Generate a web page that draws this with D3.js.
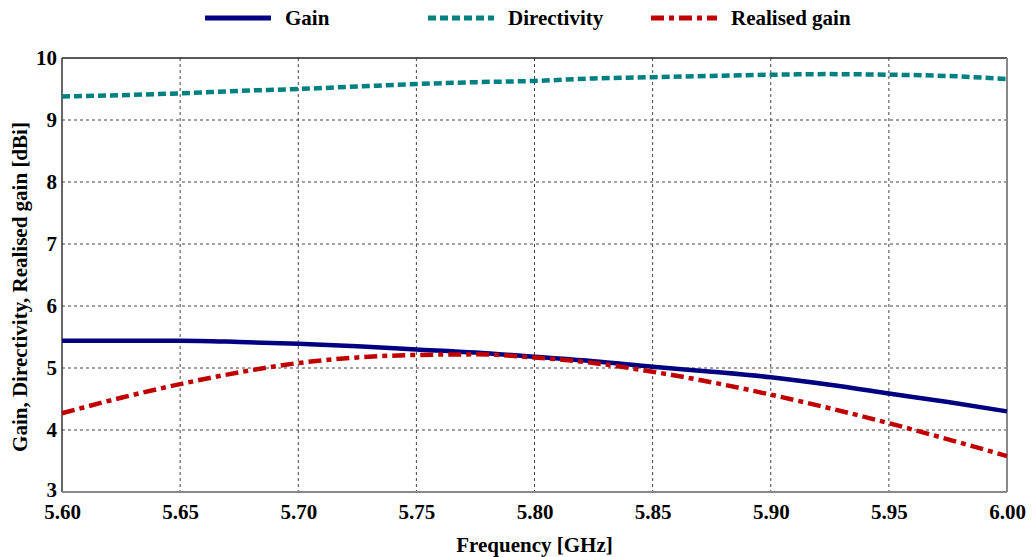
<!DOCTYPE html>
<html>
<head>
<meta charset="utf-8">
<script src="https://cdn.jsdelivr.net/npm/d3@7"></script>
<style>
  html, body { margin: 0; padding: 0; background: #fff; }
  svg text { font-family: "Liberation Serif", "Times New Roman", serif; font-weight: bold; fill: #000; }
</style>
</head>
<body>
<svg id="chart" width="1033" height="557"></svg>
<script>
// Frequency sweep [GHz]
const freq = [5.600, 5.625, 5.650, 5.675, 5.700, 5.725, 5.750, 5.775, 5.800,
              5.825, 5.850, 5.875, 5.900, 5.925, 5.950, 5.975, 6.000];
// Antenna figures [dBi]
const gain        = [5.44, 5.44, 5.44, 5.42, 5.39, 5.35, 5.30, 5.25, 5.18,
                     5.11, 5.02, 4.94, 4.85, 4.73, 4.59, 4.45, 4.30];
const directivity = [9.38, 9.40, 9.43, 9.47, 9.50, 9.54, 9.58, 9.61, 9.63,
                     9.67, 9.69, 9.71, 9.73, 9.74, 9.73, 9.71, 9.66];
const realised    = [4.27, 4.52, 4.74, 4.93, 5.08, 5.17, 5.21, 5.22, 5.17,
                     5.08, 4.94, 4.77, 4.57, 4.35, 4.11, 3.85, 3.58];

const xTicks = [5.60, 5.65, 5.70, 5.75, 5.80, 5.85, 5.90, 5.95, 6.00];
const yTicks = [3, 4, 5, 6, 7, 8, 9, 10];

const seriesNames = ["Gain", "Directivity", "Realised gain"];
const seriesData = [gain, directivity, realised];

const styles = [
  { color: "#000080", dash: null },
  { color: "#008080", dash: "8,4" },
  { color: "#c00000", dash: "13,5,5,5" }
];

const svg = d3.select("#chart");
const L = 62, R = 1007, T = 58, B = 492;

const x = d3.scaleLinear().domain([5.6, 6.0]).range([L, R]);
const y = d3.scaleLinear().domain([3, 10]).range([B, T]);

// grid
const grid = svg.append("g");
grid.selectAll("line.v").data(xTicks.slice(1, -1)).join("line")
  .attr("x1", d => x(d)).attr("x2", d => x(d))
  .attr("y1", T).attr("y2", B)
  .attr("stroke", "#444").attr("stroke-width", 1).attr("stroke-dasharray", "3,3");
grid.selectAll("line.h").data(yTicks.slice(1, -1)).join("line")
  .attr("x1", L).attr("x2", R)
  .attr("y1", d => y(d)).attr("y2", d => y(d))
  .attr("stroke", "#444").attr("stroke-width", 1).attr("stroke-dasharray", "3,3");

// frame
svg.append("line").attr("x1", L).attr("x2", R).attr("y1", T).attr("y2", T)
  .attr("stroke", "#222").attr("stroke-width", 1.5);
svg.append("line").attr("x1", L).attr("x2", L).attr("y1", T).attr("y2", B)
  .attr("stroke", "#333").attr("stroke-width", 1.5);
svg.append("line").attr("x1", R).attr("x2", R).attr("y1", T).attr("y2", B)
  .attr("stroke", "#888").attr("stroke-width", 2);
svg.append("line").attr("x1", L).attr("x2", R).attr("y1", B).attr("y2", B)
  .attr("stroke", "#888").attr("stroke-width", 2);

// tick labels via d3 axes (domain and tick marks hidden)
const xAxis = svg.append("g").attr("transform", `translate(0,${B})`)
  .call(d3.axisBottom(x).tickValues(xTicks).tickFormat(d3.format(".2f")).tickSize(0).tickPadding(12));
xAxis.select(".domain").remove();
xAxis.selectAll("text").attr("font-size", 21).attr("fill", "#000")
  .attr("font-family", "Liberation Serif, serif").attr("font-weight", "bold");

const yAxis = svg.append("g").attr("transform", `translate(${L},0)`)
  .call(d3.axisLeft(y).tickValues(yTicks).tickFormat(d3.format("d")).tickSize(0).tickPadding(5));
yAxis.select(".domain").remove();
yAxis.selectAll("text").attr("font-size", 21).attr("fill", "#000")
  .attr("font-family", "Liberation Serif, serif").attr("font-weight", "bold");
// lowest label sits a touch higher so it clears the x labels
yAxis.selectAll(".tick").filter(d => d === 3).select("text").attr("dy", "0.2em");

// titles
svg.append("text").attr("x", (L + R) / 2).attr("y", 552)
  .attr("text-anchor", "middle").attr("font-size", 21).text("Frequency [GHz]");
svg.append("text").attr("transform", `translate(27,${(T + B) / 2 + 12}) rotate(-90)`)
  .attr("text-anchor", "middle").attr("font-size", 21)
  .text("Gain, Directivity, Realised gain [dBi]");

// curves
const line = d3.line()
  .x((d, i) => x(freq[i]))
  .y(d => y(d))
  .curve(d3.curveMonotoneX);

const plot = svg.append("g");
seriesData.forEach((vals, k) => {
  plot.append("path").datum(vals)
    .attr("d", line)
    .attr("fill", "none")
    .attr("stroke", styles[k].color)
    .attr("stroke-width", 4.5)
    .attr("stroke-dasharray", styles[k].dash);
});

// legend
const legendX = [205, 428, 651];
const legend = svg.append("g");
seriesNames.forEach((name, k) => {
  legend.append("line")
    .attr("x1", legendX[k]).attr("x2", legendX[k] + 66)
    .attr("y1", 18).attr("y2", 18)
    .attr("stroke", styles[k].color).attr("stroke-width", 5)
    .attr("stroke-dasharray", styles[k].dash);
  legend.append("text")
    .attr("x", legendX[k] + 80).attr("y", 25)
    .attr("font-size", 21).text(name);
});
</script>
</body>
</html>
